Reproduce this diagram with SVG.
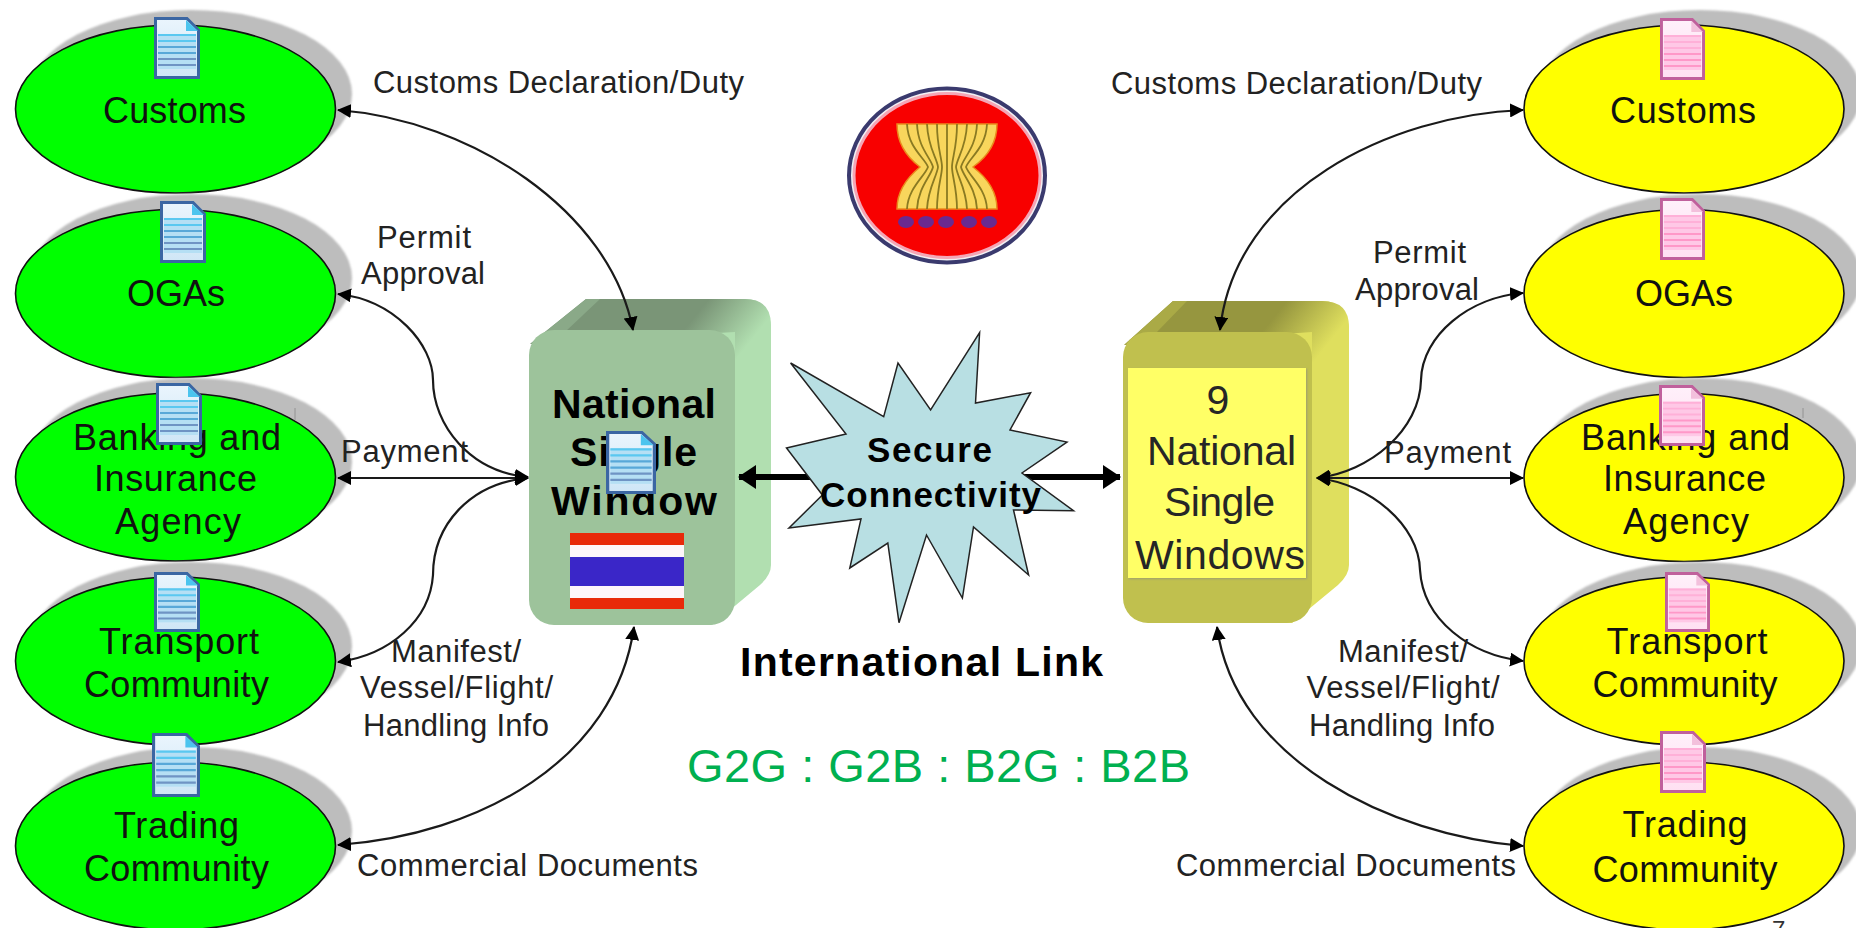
<svg xmlns="http://www.w3.org/2000/svg" width="1856" height="928" viewBox="0 0 1856 928">
<style>
text{font-family:"Liberation Sans",Arial,sans-serif;fill:#111}
.nl{font-size:36px}
.lb{font-size:31px;fill:#222}
.bold{font-weight:bold;fill:#000}
.sh{fill:#bdbdbd;filter:url(#soft)}
.gr{fill:#00ff00;stroke:#111;stroke-width:1.6}
.ye{fill:#ffff00;stroke:#111;stroke-width:1.6}
.c{fill:none;stroke:#1a1a1a;stroke-width:2.2;marker-start:url(#ah);marker-end:url(#ah)}
.thick{fill:none;stroke:#000;stroke-width:6;marker-start:url(#tah);marker-end:url(#tah)}
.nw{font-size:41px;fill:#262626}
.tick{stroke:#999;stroke-width:1.2}
</style>
<defs>
<filter id="soft" x="-5%" y="-5%" width="110%" height="110%"><feGaussianBlur stdDeviation="1.2"/></filter>
<filter id="sh2" x="-5%" y="-5%" width="110%" height="110%"><feDropShadow dx="1" dy="1" stdDeviation="1" flood-color="#888" flood-opacity=".6"/></filter>
<marker id="ah" viewBox="0 0 14 14" refX="13" refY="7" markerWidth="14" markerHeight="14" markerUnits="userSpaceOnUse" orient="auto-start-reverse"><path d="M0 0L14 7L0 14z" fill="#000"/></marker>
<marker id="tah" viewBox="0 0 18 24" refX="17" refY="12" markerWidth="18" markerHeight="24" markerUnits="userSpaceOnUse" orient="auto-start-reverse"><path d="M0 0L18 12L0 24z" fill="#000"/></marker>
<linearGradient id="gt" gradientUnits="userSpaceOnUse" x1="696" y1="315" x2="742" y2="352"><stop offset="0" stop-color="#7a9577"/><stop offset="1" stop-color="#b1dfb0"/></linearGradient>
<linearGradient id="yt" gradientUnits="userSpaceOnUse" x1="1274" y1="317" x2="1320" y2="354"><stop offset="0" stop-color="#96963f"/><stop offset="1" stop-color="#dfdf5e"/></linearGradient>
<linearGradient id="bd" x1="0" y1="0" x2="0" y2="1"><stop offset="0" stop-color="#eaf5fd"/><stop offset="1" stop-color="#cfe6f6"/></linearGradient>
<linearGradient id="pd" x1="0" y1="0" x2="0" y2="1"><stop offset="0" stop-color="#fff0fa"/><stop offset="1" stop-color="#ffe0f2"/></linearGradient>
<symbol id="docB" viewBox="0 0 46 62" preserveAspectRatio="none">
<path d="M1.500 1.500H33L44.500 13V60.500H1.500z" fill="url(#bd)" stroke="#3b66a3" stroke-width="3"/>
<path d="M32 3L44 14H32z" fill="#4cc4ee"/>
<rect x="4" y="17" width="38" height="35" fill="#b5dff4"/>
<path d="M4 18H42M4 24H42" stroke="#5ac8f0" stroke-width="2.200"/><path d="M4 30H42M4 36H42" stroke="#58a8d8" stroke-width="2.200"/><path d="M4 42H42M4 48H42" stroke="#6f94c4" stroke-width="2.200"/>
</symbol>
<symbol id="docP" viewBox="0 0 46 62" preserveAspectRatio="none">
<path d="M1.500 1.500H33L44.500 13V60.500H1.500z" fill="url(#pd)" stroke="#c0609c" stroke-width="3"/>
<path d="M32 3L44 14H32z" fill="#f3c0dc"/>
<rect x="4" y="17" width="38" height="35" fill="#ffc8e6"/>
<path d="M4 18H42M4 24H42M4 30H42" stroke="#ffb0d8" stroke-width="2"/><path d="M4 36H42M4 42H42M4 48H42" stroke="#ff98c8" stroke-width="2"/>
</symbol>
</defs>
<rect width="1856" height="928" fill="#fff"/>

<g id="left-customs"><ellipse class="sh" cx="191" cy="94" rx="161" ry="84"/><ellipse class="gr" cx="175.500" cy="109" rx="160" ry="84"/></g>
<g id="left-ogas"><ellipse class="sh" cx="191" cy="278" rx="161" ry="84"/><ellipse class="gr" cx="175.500" cy="293.500" rx="160" ry="84"/></g>
<g id="left-banking"><ellipse class="sh" cx="191" cy="462" rx="161" ry="84"/><ellipse class="gr" cx="175.500" cy="477" rx="160" ry="84"/><path class="tick" d="M295 408V420"/></g>
<g id="left-transport"><ellipse class="sh" cx="191" cy="646" rx="161" ry="84"/><ellipse class="gr" cx="175.500" cy="661" rx="160" ry="84"/></g>
<g id="left-trading"><ellipse class="sh" cx="191" cy="831" rx="161" ry="84"/><ellipse class="gr" cx="175.500" cy="846" rx="160" ry="84"/></g>
<g id="right-customs"><ellipse class="sh" cx="1700" cy="94" rx="161" ry="84"/><ellipse class="ye" cx="1684" cy="109" rx="160" ry="84"/></g>
<g id="right-ogas"><ellipse class="sh" cx="1700" cy="278" rx="161" ry="84"/><ellipse class="ye" cx="1684" cy="293.500" rx="160" ry="84"/></g>
<g id="right-banking"><ellipse class="sh" cx="1700" cy="462" rx="161" ry="84"/><ellipse class="ye" cx="1684" cy="477.500" rx="160" ry="84"/><path class="tick" d="M1803 408V418"/></g>
<g id="right-transport"><ellipse class="sh" cx="1700" cy="646" rx="161" ry="84"/><ellipse class="ye" cx="1684" cy="661" rx="160" ry="84"/></g>
<g id="right-trading"><ellipse class="sh" cx="1700" cy="831" rx="161" ry="84"/><ellipse class="ye" cx="1684" cy="846" rx="160" ry="84"/></g>

<g id="asean-logo">
<ellipse cx="947" cy="175.500" rx="98" ry="87" fill="#f2f0f4" stroke="#3a3a6e" stroke-width="4"/>
<ellipse cx="947" cy="175.500" rx="93" ry="82" fill="#f80000" stroke="#f4a6b6" stroke-width="3"/>
<path d="M897 124H997C997 140 990 155 973 167C990 180 997 195 997 209H897C897 195 904 180 920 167C904 155 897 140 897 124z" fill="#f8d65c" stroke="#ea8a1c" stroke-width="1.500"/>
<path d="M907 124C908 148 925 158 928 167C925 176 908 188 907 209M917 124C918 148 931 158 933 167C931 176 918 188 917 209M927 124C928 148 937 158 938 167C937 176 928 188 927 209M937 124C937 148 942 158 942 167C942 176 937 188 937 209M947 124V209M957 124C957 148 952 158 952 167C952 176 957 188 957 209M967 124C966 148 957 158 956 167C957 176 966 188 967 209M977 124C976 148 963 158 961 167C963 176 976 188 977 209M987 124C986 148 969 158 966 167C969 176 986 188 987 209" fill="none" stroke="#8a7a22" stroke-width="1.800"/>
<g fill="#6a2a90"><ellipse cx="906" cy="222" rx="8" ry="6"/><ellipse cx="926" cy="222" rx="8" ry="6"/><ellipse cx="946" cy="222" rx="8" ry="6"/><ellipse cx="969" cy="222" rx="8" ry="6"/><ellipse cx="989" cy="222" rx="8" ry="6"/></g>
</g>

<g id="national-single-window">
<path d="M586 299H745Q771 299 771 330V565Q771 575 760 585L712 625H600V340z" fill="#b1dfb0"/>
<path d="M530 344L586 299H745Q771 299 771 325V360H735V332z" fill="url(#gt)"/>
<path d="M530 344L586 299H600L565 332z" fill="#8aa988"/>
<rect x="529" y="330" width="206" height="295" rx="25" fill="#9dc39b"/>
<g id="thai-flag"><rect x="570" y="533" width="114" height="76" fill="#e8290a"/><rect x="570" y="545" width="114" height="53" fill="#fdf5fa"/><rect x="570" y="557" width="114" height="29" fill="#3a26c8"/></g>
</g>
<g id="nine-national-single-windows">
<path d="M1173 301H1322Q1349 301 1349 332V565Q1349 575 1338 585L1292 623H1180V340z" fill="#dfdf5e"/>
<path d="M1124 345L1173 301H1322Q1349 301 1349 327V362H1312V332z" fill="url(#yt)"/>
<path d="M1124 345L1173 301H1187L1155 334z" fill="#aaaa46"/>
<rect x="1123" y="332" width="189" height="291" rx="25" fill="#c0c04e"/>
<rect x="1128" y="368" width="178" height="210" fill="#ffff66" filter="url(#sh2)"/>
<text class="nw" x="1218" y="414" text-anchor="middle">9</text>
<text class="nw" x="1147" y="465" textLength="149">National</text>
<text class="nw" x="1164" y="516" textLength="111">Single</text>
<text class="nw" x="1135" y="569" textLength="170">Windows</text>
</g>

<g id="connectors">
<path class="c" d="M338 110C470 120 610 210 633 330"/>
<path class="c" d="M338 294C395 300 433 345 433 380C433 425 470 472 528 477"/>
<path class="c" d="M338 478H528"/>
<path class="c" d="M528 478C470 483 433 525 433 575C430 620 390 655 338 662"/>
<path class="c" d="M338 845C480 835 615 760 634 627"/>
<path class="c" d="M1523 110C1390 115 1235 190 1220 330"/>
<path class="c" d="M1523 293C1470 297 1422 335 1421 380C1420 430 1370 472 1317 478"/>
<path class="c" d="M1317 478H1523"/>
<path class="c" d="M1317 478C1370 484 1419 525 1420 570C1423 620 1470 655 1523 661"/>
<path class="c" d="M1523 846C1390 835 1235 760 1217 627"/>
<path class="thick" d="M739 477H1120"/>
</g>

<g id="secure-connectivity">
<polygon points="979.600,332.700 975.500,403 1030.600,392.700 1010,430 1067,442 1022,473 1073.500,510.700 1013.500,510 1028.600,575 973.500,527 962.400,598 926.500,535 899,622.700 887.800,543 849.800,568 861,519 789,528 822.400,495 786.500,448 846,434 790.600,363 883.700,416.700 898,363 930.600,410" fill="#b8dfe3" stroke="#222" stroke-width="1.500"/>
<text class="bold" font-size="35" x="867" y="462" textLength="125">Secure</text>
<text class="bold" font-size="35" x="820" y="507" textLength="221">Connectivity</text>
</g>

<g id="labels-left-nodes">
<text class="nl" x="103" y="122.500" textLength="143">Customs</text>
<text class="nl" x="127" y="306" textLength="98">OGAs</text>
<text class="nl" x="73" y="450" textLength="208">Banking and</text>
<text class="nl" x="94" y="491" textLength="163">Insurance</text>
<text class="nl" x="115" y="534" textLength="126">Agency</text>
<text class="nl" x="99" y="654" textLength="160">Transport</text>
<text class="nl" x="84" y="697" textLength="185">Community</text>
<text class="nl" x="114" y="838" textLength="125">Trading</text>
<text class="nl" x="84" y="881" textLength="185">Community</text>
</g>
<g id="labels-right-nodes">
<text class="nl" x="1610" y="122.500" textLength="146">Customs</text>
<text class="nl" x="1635" y="306" textLength="98">OGAs</text>
<text class="nl" x="1581" y="450" textLength="209">Banking and</text>
<text class="nl" x="1603" y="491" textLength="163">Insurance</text>
<text class="nl" x="1623" y="534" textLength="126">Agency</text>
<text class="nl" x="1606.500" y="654" textLength="161">Transport</text>
<text class="nl" x="1592.500" y="697" textLength="185">Community</text>
<text class="nl" x="1622.600" y="837" textLength="125">Trading</text>
<text class="nl" x="1592.500" y="882" textLength="185">Community</text>
</g>
<g id="labels-connectors">
<text class="lb" x="373" y="93" textLength="371">Customs Declaration/Duty</text>
<text class="lb" x="377" y="248" textLength="94">Permit</text>
<text class="lb" x="361" y="284" textLength="124">Approval</text>
<text class="lb" x="341" y="462" textLength="127">Payment</text>
<text class="lb" x="391" y="662" textLength="130">Manifest/</text>
<text class="lb" x="360" y="698" textLength="193">Vessel/Flight/</text>
<text class="lb" x="363" y="736" textLength="186">Handling Info</text>
<text class="lb" x="357" y="876" textLength="341">Commercial Documents</text>
<text class="lb" x="1111" y="93.500" textLength="371">Customs Declaration/Duty</text>
<text class="lb" x="1373" y="263" textLength="93">Permit</text>
<text class="lb" x="1355" y="300" textLength="124">Approval</text>
<text class="lb" x="1384" y="463" textLength="127">Payment</text>
<text class="lb" x="1338" y="662" textLength="130">Manifest/</text>
<text class="lb" x="1306.500" y="697.500" textLength="193">Vessel/Flight/</text>
<text class="lb" x="1309" y="736" textLength="186">Handling Info</text>
<text class="lb" x="1176" y="876" textLength="340">Commercial Documents</text>
</g>
<g id="labels-center">
<text class="bold" font-size="41" x="552" y="418" textLength="164">National</text>
<text class="bold" font-size="41" x="570" y="466" textLength="127">Single</text>
<text class="bold" font-size="41" x="551" y="515" textLength="166">Window</text>
<text class="bold" font-size="41" x="740" y="676" textLength="363">International Link</text>
<text font-size="47" x="687" y="782" textLength="503" style="fill:#00b050">G2G : G2B : B2G : B2B</text>
<text font-size="24" x="1772" y="938" style="fill:#333">7</text>
</g>

<g id="doc-icons">
<use href="#docB" x="154" y="17" width="46" height="62"/>
<use href="#docB" x="160" y="201" width="46" height="62"/>
<use href="#docB" x="156" y="383" width="46" height="62"/>
<use href="#docB" x="154" y="572" width="46" height="60"/>
<use href="#docB" x="152" y="733" width="48" height="64"/>
<use href="#docB" x="606" y="431" width="50" height="63"/>
<use href="#docP" x="1660" y="18" width="45" height="62"/>
<use href="#docP" x="1660" y="198" width="45" height="62"/>
<use href="#docP" x="1659" y="385" width="46" height="61"/>
<use href="#docP" x="1665" y="572" width="45" height="60"/>
<use href="#docP" x="1660" y="731" width="46" height="62"/>
</g>
</svg>
